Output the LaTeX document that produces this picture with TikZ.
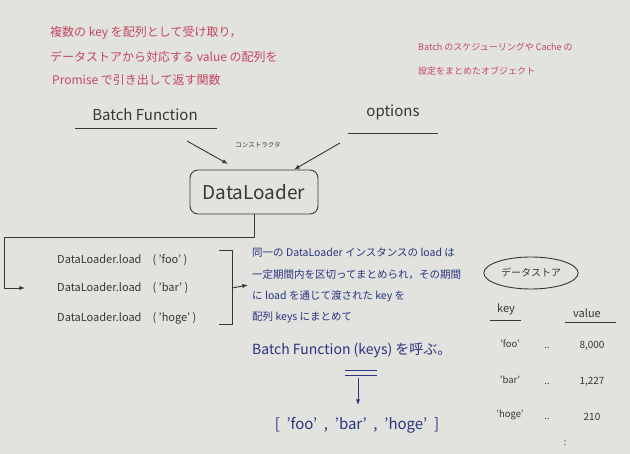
\documentclass[tikz,border=0pt]{standalone}
\usepackage{fontspec}
\setmainfont{Noto Sans CJK JP}
\usepackage{tikz}
\usetikzlibrary{arrows.meta,shapes.geometric}

\definecolor{board}{RGB}{226,226,222}
\definecolor{marker}{RGB}{55,55,55}
\definecolor{redpen}{RGB}{196,72,96}
\definecolor{bluepen}{RGB}{42,52,128}

\tikzset{
	memo/.style={text=redpen, anchor=west, inner sep=0pt},
	note/.style={text=bluepen, anchor=west, inner sep=0pt, font=\fontsize{10.5}{12}\selectfont},
	call/.style={text=marker, anchor=west, inner sep=0pt, font=\fontsize{11}{13}\selectfont},
	pen/.style={marker, line width=0.9pt},
}

\begin{document}
\begin{tikzpicture}[x=1pt, y=-1pt, every node/.style={font=\small}, >={Latex[length=2mm]}]
	\fill[board] (0,0) rectangle (630,454);
	\useasboundingbox (0,0) rectangle (630,454);
	% red memos
	\node[memo, font=\fontsize{12}{14}\selectfont] (m1) at (50,33) {複数の key を配列として受け取り，};
	\node[memo, font=\fontsize{12}{14}\selectfont] (m2) at (50,57) {データストアから対応する value の配列を};
	\node[memo, font=\fontsize{12}{14}\selectfont] (m3) at (52,80) {Promise で引き出して返す関数};
	\node[memo, font=\fontsize{9}{10}\selectfont] (m4) at (418,47) {Batch のスケジューリングや Cache の};
	\node[memo, font=\fontsize{9}{10}\selectfont] (m5) at (418,71) {設定をまとめたオブジェクト};
	% inputs
	\node[text=marker, font=\fontsize{15}{17}\selectfont] (bf) at (145,115) {Batch Function};
	\node[text=marker, font=\fontsize{15}{17}\selectfont] (opt) at (393,112) {options};
	\draw[pen] (75,128) -- (217,128);
	\draw[pen] (348,133) -- (438,133);
	\node[text=marker, font=\fontsize{6.5}{8}\selectfont] (ctor) at (258,145) {コンストラクタ};
	\node[draw=marker, line width=0.9pt, rounded corners=8pt, minimum width=128pt, minimum height=44pt,
		text=marker, font=\fontsize{19}{22}\selectfont] (dl) at (254,192) {DataLoader};
	\coordinate (bfend) at (187,141);
	\coordinate (bftip) at (228,164);
	\coordinate (optend) at (340,143);
	\draw[pen, ->] (bfend) -- (bftip);
	\draw[pen, ->] (optend) -- ([xshift=40pt]dl.north);
	% load calls
	\node[call] (l1) at (57,260) {DataLoader.load\quad ( 'foo' )};
	\node[call] (l2) at (57,288) {DataLoader.load\quad ( 'bar' )};
	\node[call] (l3) at (57,318) {DataLoader.load\quad ( 'hoge' )};
	\coordinate (turn) at (4,237);
	\draw[pen, ->] (dl.south) |- (turn) |- ([xshift=-32pt]l2.west);
	\draw[pen] (219,250) -- (232,250) -- (232,324) -- (219,324);
	\coordinate (brk) at (232,288);
	% blue notes
	\node[note] (n1) at (252,253) {同一の DataLoader インスタンスの load は};
	\node[note] (n2) at (252,275) {一定期間内を区切ってまとめられ，その期間};
	\node[note] (n3) at (252,296) {に load を通じて渡された key を};
	\node[note] (n4) at (252,317) {配列 keys にまとめて};
	\draw[pen, ->] (brk) -- ([xshift=-4pt]n3.west |- 0,285);
	\node[text=bluepen, anchor=west, inner sep=0pt, font=\fontsize{14}{16}\selectfont] (call) at (252,350) {Batch Function (keys) を呼ぶ。};
	\draw[bluepen, line width=0.9pt] (345,370) -- (377,370) (345,375) -- (377,375);
	\coordinate (down) at (358,378);
	\coordinate (downtip) at (358,405);
	\node[text=bluepen, font=\fontsize{15}{17}\selectfont] (arr) at (357,425) {[ \ 'foo' \ , \ 'bar' \ , \ 'hoge' \ ]};
	\draw[bluepen, line width=0.9pt, ->] (down) -- (downtip);
	% data store
	\node[draw=marker, line width=0.9pt, ellipse, minimum width=66pt, minimum height=32pt,
		text=marker, font=\fontsize{10}{12}\selectfont] (ds) at (531,273) {データストア};
	\node[text=marker, font=\fontsize{11}{13}\selectfont] (kh) at (506,309) {key};
	\node[text=marker, font=\fontsize{11}{13}\selectfont] (vh) at (587,313) {value};
	\draw[pen] (490,320) -- (521,320);
	\draw[pen] (565,322) -- (616,322);
	\foreach \k/\v/\y in {'foo'/8{,}000/344, 'bar'/1{,}227/380, 'hoge'/210/415} {
		\node[text=marker, font=\fontsize{9.5}{11}\selectfont] at (510,\y) {\k};
		\node[text=marker, font=\fontsize{9.5}{11}\selectfont] at (547,\y+4) {..};
		\node[text=marker, font=\fontsize{10}{12}\selectfont] at (592,\y+2) {\v};
	}
	\node[text=marker, font=\fontsize{9}{11}\selectfont] (more) at (565,443) {:};
\end{tikzpicture}
\end{document}
